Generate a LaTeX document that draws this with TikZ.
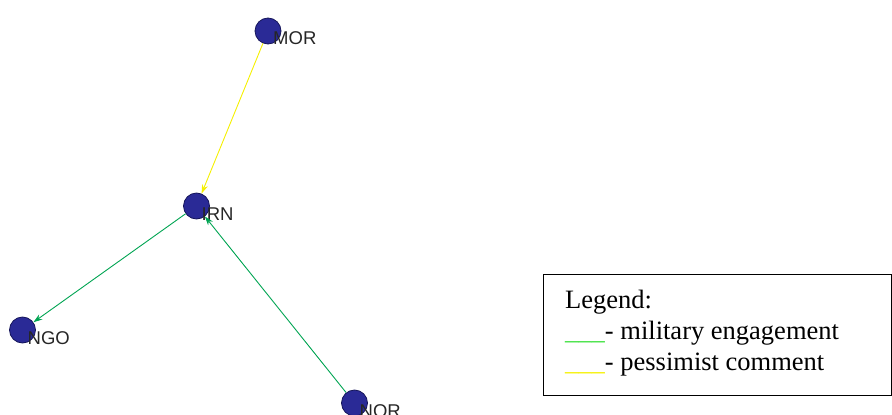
\documentclass[tikz,border=0pt]{standalone}
\usepackage{fontspec}
\setmainfont{Liberation Serif}
\newfontfamily\lblfont{Liberation Sans}
\usepackage{xcolor}
\usetikzlibrary{arrows.meta, positioning}

\definecolor{nodeblue}{RGB}{42,42,150}
\definecolor{nodeedge}{RGB}{22,22,90}
\definecolor{milgreen}{RGB}{0,164,82}
\definecolor{leggreen}{RGB}{60,225,60}
\definecolor{pessyellow}{RGB}{245,240,0}

\tikzset{
  actor/.style={circle, fill=nodeblue, draw=nodeedge, line width=0.8pt, minimum size=26pt, inner sep=0pt},
  lbl/.style={font=\lblfont\fontsize{18.5}{21}\selectfont, text=black!85, inner sep=0pt, anchor=base west},
  link/.style={line width=0.9pt, -{Stealth[length=9pt, width=6pt]}},
  legtext/.style={font=\fontsize{26.5}{31}\selectfont, inner sep=0pt, anchor=base west}
}

\begin{document}
\begin{tikzpicture}[x=1pt, y=-1pt]
            \useasboundingbox (0,0) rectangle (892,415);

            \node[actor] (MOR) at (268,31) {};
            \node[actor] (IRN) at (196.5,206) {};
            \node[actor] (NGO) at (22.5,330) {};
            \node[actor] (NOR) at (354.5,403) {};

            \foreach \n in {MOR,IRN,NGO,NOR}
              \node[lbl] (\n-t) at ([xshift=5pt, yshift=-14pt]\n.center) {\n};

            \draw[link, pessyellow] (MOR) -- (IRN);
            \draw[link, milgreen] (IRN) -- (NGO);
            \draw[link, milgreen] (NOR) -- (IRN);

            % legend box
            \node[draw, line width=1.4pt, minimum width=348pt, minimum height=121pt, anchor=north west, inner sep=0pt] (legend) at (543,274) {};
            \node[legtext] (leghead) at ([xshift=22pt, yshift=-34pt]legend.north west) {Legend:};
            \node[legtext] (legmil) at ([yshift=-31pt]leghead.base west) {{\color{leggreen}\_\_\_}- military engagement};
            \node[legtext] (legpes) at ([yshift=-31pt]legmil.base west) {{\color{pessyellow}\_\_\_}- pessimist comment};
          \end{tikzpicture}
\end{document}
